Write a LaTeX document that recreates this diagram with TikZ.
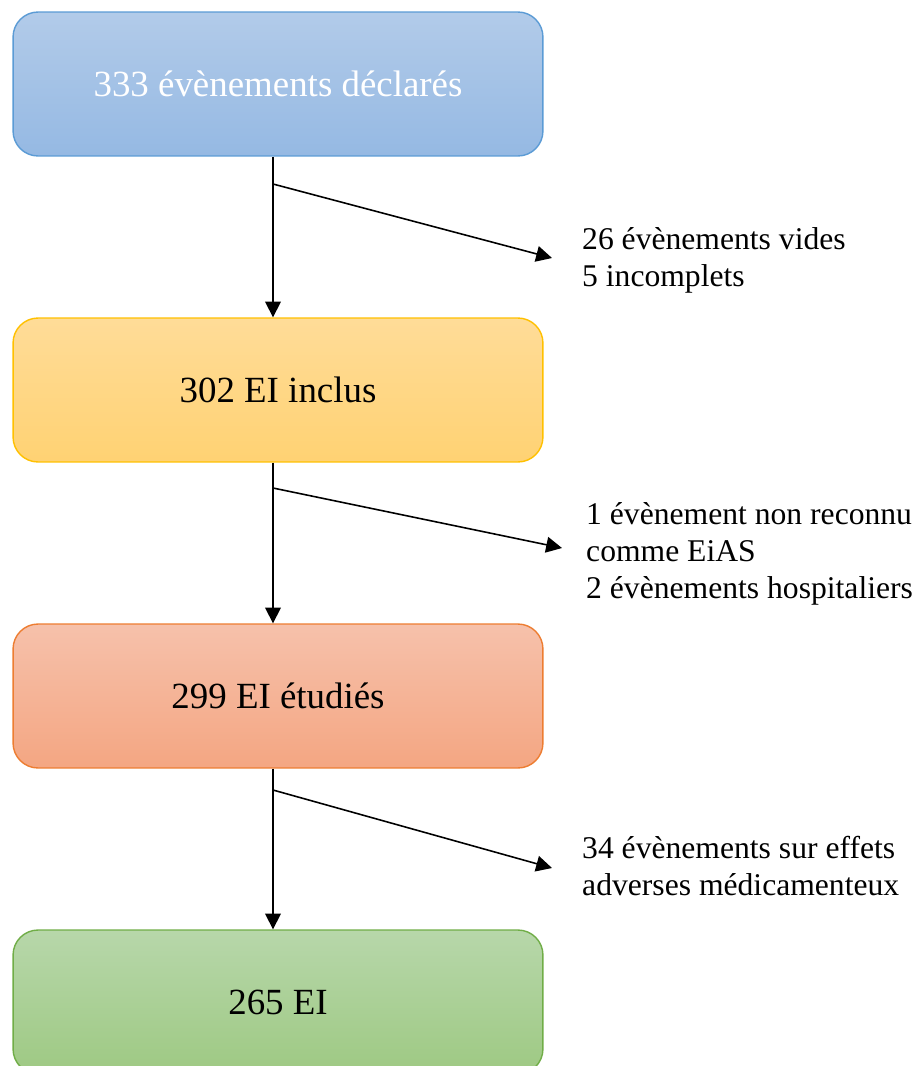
\documentclass[tikz,border=0pt]{standalone}
\usepackage{fontspec}
\setmainfont{Liberation Serif}
\usepackage{tikz}
\usetikzlibrary{arrows.meta, positioning, calc}
\definecolor{bluetop}{RGB}{178,203,233}
\definecolor{bluebot}{RGB}{149,185,227}
\definecolor{blueline}{RGB}{91,155,213}
\definecolor{yellowtop}{RGB}{255,220,152}
\definecolor{yellowbot}{RGB}{255,210,115}
\definecolor{yellowline}{RGB}{255,192,0}
\definecolor{orangetop}{RGB}{246,193,171}
\definecolor{orangebot}{RGB}{244,166,130}
\definecolor{orangeline}{RGB}{237,125,49}
\definecolor{greentop}{RGB}{183,215,170}
\definecolor{greenbot}{RGB}{158,201,131}
\definecolor{greenline}{RGB}{112,173,71}
\tikzset{
  stage/.style={draw=#1line, rounded corners=0.5cm, minimum width=10.6cm,
                minimum height=2.88cm, top color=#1top, bottom color=#1bot,
                line width=0.8pt, font=\fontsize{21}{25}\selectfont},
  flow/.style={-{Triangle[length=9pt,width=9pt]}, line width=0.9pt},
  excl/.style={anchor=west, align=left, font=\fontsize{18}{21}\selectfont},
}
\begin{document}
\begin{tikzpicture}[x=0.02cm, y=-0.02cm]
  \useasboundingbox (0,0) rectangle (920,1066);

  % Stages
  \node[stage=blue, text=white] (declares) at (278,84) {333 évènements déclarés};
  \node[stage=yellow] (inclus) at (278,390) {302 EI inclus};
  \node[stage=orange] (etudies) at (278,696) {299 EI étudiés};
  \node[stage=green] (retenus) at (278,1002) {265 EI};

  % Excluded events
  \node[excl] (vides) at (576,260) {26 évènements vides\\5 incomplets};
  \node[excl] (hosp) at (580,554) {1 évènement non reconnu\\comme EiAS\\2 évènements hospitaliers};
  \node[excl] (medic) at (576,866) {34 évènements sur effets\\adverses médicamenteux};

  % Branch points
  \coordinate (b1) at (273,184);
  \coordinate (b2) at (273,488);
  \coordinate (b3) at (273,790);
  \coordinate (t1) at (552,258);
  \coordinate (t2) at (562,548);
  \coordinate (t3) at (552,868);

  % Flow
  \draw[flow] (declares.south -| b1) -- (inclus.north -| b1);
  \draw[flow] (inclus.south -| b2) -- (etudies.north -| b2);
  \draw[flow] (etudies.south -| b3) -- (retenus.north -| b3);
  \draw[flow] (b1) -- (t1);
  \draw[flow] (b2) -- (t2);
  \draw[flow] (b3) -- (t3);
\end{tikzpicture}
\end{document}
